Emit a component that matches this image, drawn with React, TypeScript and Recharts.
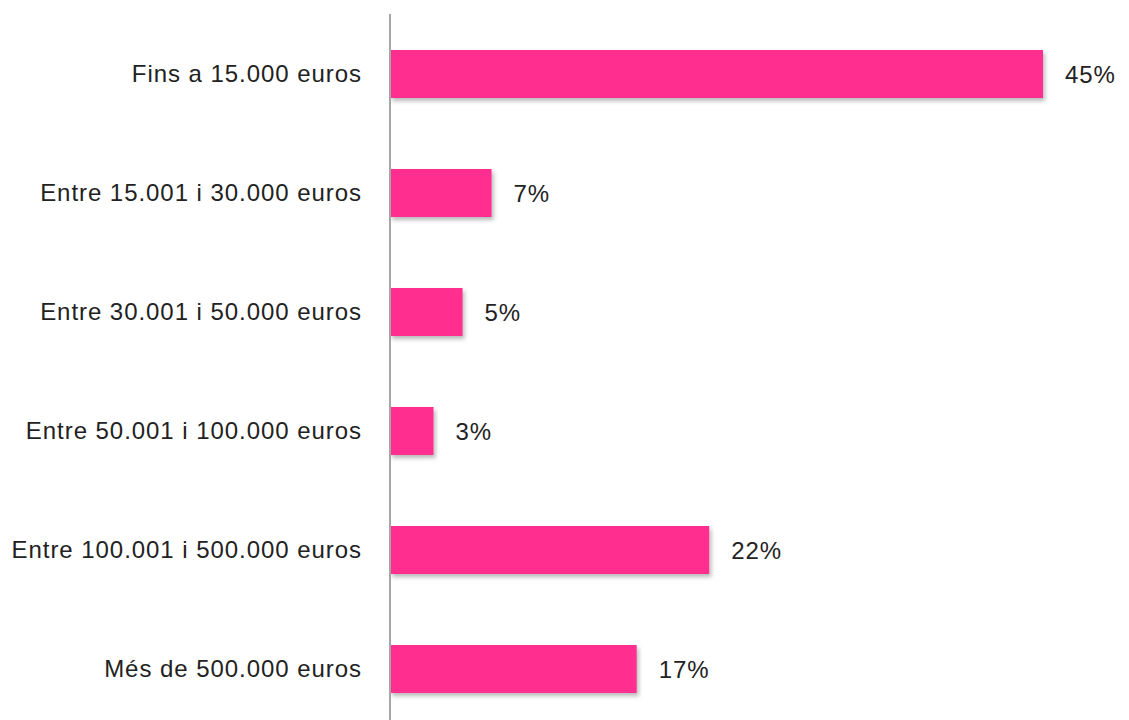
import React from 'react';
import { BarChart, Bar, XAxis, YAxis, LabelList, Rectangle } from 'recharts';

const categories = [
  'Fins a 15.000 euros',
  'Entre 15.001 i 30.000 euros',
  'Entre 30.001 i 50.000 euros',
  'Entre 50.001 i 100.000 euros',
  'Entre 100.001 i 500.000 euros',
  'Més de 500.000 euros',
];
const percentages = [45, 7, 5, 3, 22, 17];

const data = categories.map((name, i) => ({ name, value: percentages[i] }));

const FONT = '"Liberation Sans", Arial, sans-serif';
const textStyle = { fill: '#222', fontSize: 24, fontFamily: FONT, letterSpacing: 0.95 };

const ShadowBar = (props: any) => <Rectangle {...props} filter="url(#barShadow)" />;

const App: React.FC = () => {
  return (
    <div style={{ position: 'absolute', left: 0, top: 0, width: 1129, height: 720, overflow: 'hidden', background: '#fff' }}>
      <BarChart
        width={1129}
        height={728}
        data={data}
        layout="vertical"
        margin={{ top: 14, right: 86, bottom: 0, left: 0 }}
        barCategoryGap={0}
      >
        <defs>
          <filter id="barShadow" x="-5%" y="-20%" width="115%" height="160%">
            <feDropShadow dx="2" dy="3" stdDeviation="2" floodColor="#000" floodOpacity="0.28" />
          </filter>
        </defs>
        <XAxis type="number" domain={[0, 45]} hide />
        <YAxis
          type="category"
          dataKey="name"
          width={390}
          axisLine={{ stroke: '#a6a6a6', strokeWidth: 2 }}
          tickLine={false}
          tickSize={0}
          tickMargin={28}
          tick={textStyle}
          interval={0}
        />
        <Bar dataKey="value" fill="#ff2e8f" barSize={48} isAnimationActive={false} shape={ShadowBar}>
          <LabelList
            dataKey="value"
            position="right"
            offset={22}
            formatter={(v: any) => `${v}%`}
            style={textStyle}
          />
        </Bar>
      </BarChart>
    </div>
  );
};

export default App;
